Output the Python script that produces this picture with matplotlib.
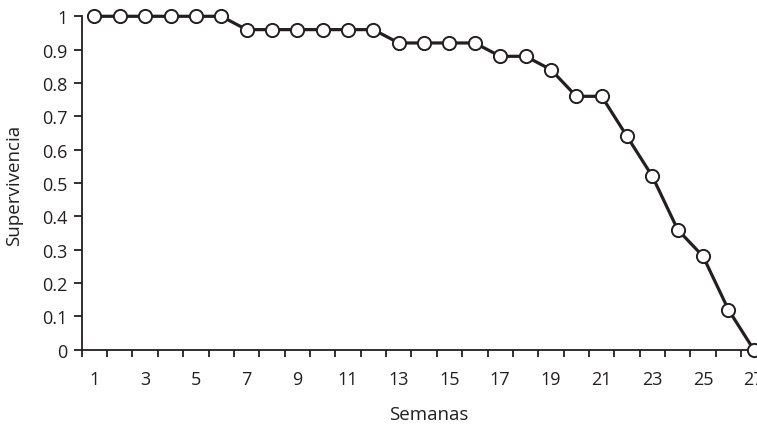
import numpy as np
import matplotlib.pyplot as plt

plt.rcParams['font.family'] = ['Open Sans', 'DejaVu Sans']

semanas = list(range(1, 28))
supervivencia = [1, 1, 1, 1, 1, 1,
                 0.96, 0.96, 0.96, 0.96, 0.96, 0.96,
                 0.92, 0.92, 0.92, 0.92,
                 0.88, 0.88, 0.84, 0.76, 0.76,
                 0.64, 0.52, 0.36, 0.28, 0.12, 0]
etiquetas_x = [str(s) for s in semanas if s % 2 == 1]
etiquetas_y = ['0', '0.1', '0.2', '0.3', '0.4', '0.5', '0.6', '0.7', '0.8', '0.9', '1']

ink = '#231f20'

fig = plt.figure(figsize=(7.57, 4.27), dpi=100)
ax = fig.add_axes([0.108, 0.1787, 0.9045, 0.7808])

ax.plot(semanas, supervivencia, color=ink, lw=2.3, marker='o', ms=9.5,
        mfc='white', mec=ink, mew=1.4, clip_on=False, zorder=3)

ax.set_xlim(0.5, 27.5)
ax.set_ylim(0, 1)

# category axis: tick marks on the boundaries, labels in the middle
ax.set_xticks(np.arange(0.5, 28, 1))
ax.set_xticklabels([])
ax.set_xticks([s for s in semanas if s % 2 == 1], minor=True)
ax.set_xticklabels(etiquetas_x, minor=True)
ax.tick_params(axis='x', which='major', direction='out', length=5, width=1.3, color=ink)
ax.tick_params(axis='x', which='minor', length=0, pad=14.5, labelsize=13, labelcolor=ink)

ax.set_yticks(np.linspace(0, 1, 11))
ax.set_yticklabels(etiquetas_y)
ax.tick_params(axis='y', direction='out', length=5.5, width=1.3, color=ink,
               labelsize=13, labelcolor=ink, pad=5)

for side in ['top', 'right']:
    ax.spines[side].set_visible(False)
for side in ['left', 'bottom']:
    ax.spines[side].set_color(ink)
    ax.spines[side].set_linewidth(1.3)

ax.set_xlabel('Semanas', fontsize=13.5, color=ink)
ax.xaxis.set_label_coords(0.507, -0.165)
ax.set_ylabel('Supervivencia', fontsize=13.5, color=ink)
ax.yaxis.set_label_coords(-0.0857, 0.497)

plt.savefig('out.png', dpi=100)
plt.close()
